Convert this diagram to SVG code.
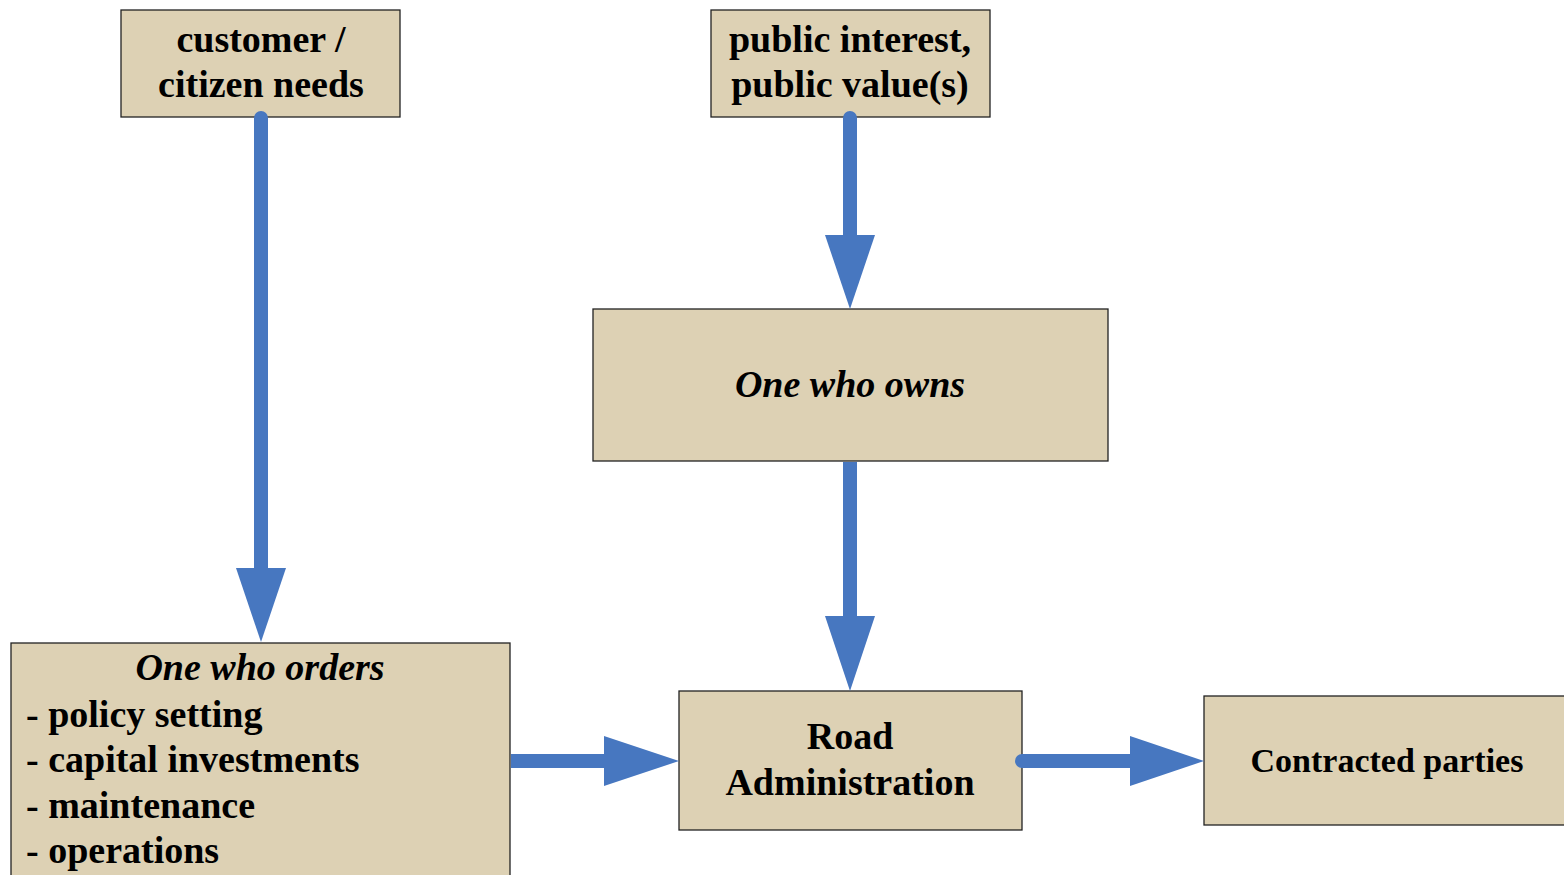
<svg xmlns="http://www.w3.org/2000/svg" width="1564" height="875" viewBox="0 0 1564 875">
<style>
.box{fill:#DDD1B4;stroke:#222;stroke-width:1.3}
.t{font-family:"Liberation Serif","Times New Roman",serif;font-weight:bold;font-size:38px;fill:#000}
.c{text-anchor:middle}
.i{font-style:italic}
.sh{stroke:#4777C0;stroke-width:14;fill:none;stroke-linecap:round}
.hd{fill:#4777C0}
</style>
<rect width="1564" height="875" fill="#fff"/>
<g id="customer">
<rect class="box" x="121" y="10" width="279" height="107"/>
<text class="t c" x="261" y="52">customer /</text>
<text class="t c" x="261" y="97">citizen needs</text>
</g>
<g id="public">
<rect class="box" x="711" y="10" width="279" height="107"/>
<text class="t c" x="850" y="52">public interest,</text>
<text class="t c" x="850" y="97">public value(s)</text>
</g>
<g id="owns">
<rect class="box" x="593" y="309" width="515" height="152"/>
<text class="t c i" x="850" y="397">One who owns</text>
</g>
<g id="orders">
<rect class="box" x="11" y="643" width="499" height="240"/>
<text class="t c i" x="260" y="680">One who orders</text>
<text class="t" x="26" y="727">- policy setting</text>
<text class="t" x="26" y="772">- capital investments</text>
<text class="t" x="26" y="818">- maintenance</text>
<text class="t" x="26" y="863">- operations</text>
</g>
<g id="road">
<rect class="box" x="679" y="691" width="343" height="139"/>
<text class="t c" x="850" y="749">Road</text>
<text class="t c" x="850" y="795">Administration</text>
</g>
<g id="contracted">
<rect class="box" x="1204" y="696" width="370" height="129"/>
<text class="t c" x="1387" y="772" style="font-size:34px">Contracted parties</text>
</g>
<g id="connectors">
<line class="sh" x1="261" y1="118" x2="261" y2="575"/>
<polygon class="hd" points="236,568 286,568 261,642"/>
<line class="sh" x1="850" y1="118" x2="850" y2="240"/>
<polygon class="hd" points="825,235 875,235 850,309"/>
<line class="sh" x1="850" y1="462" x2="850" y2="622" style="stroke-linecap:butt"/>
<polygon class="hd" points="825,616 875,616 850,691"/>
<line class="sh" x1="511" y1="761" x2="610" y2="761" style="stroke-linecap:butt"/>
<polygon class="hd" points="604,736 604,786 679,761"/>
<line class="sh" x1="1022" y1="761" x2="1135" y2="761"/>
<polygon class="hd" points="1130,736 1130,786 1204,761"/>
</g>
</svg>
